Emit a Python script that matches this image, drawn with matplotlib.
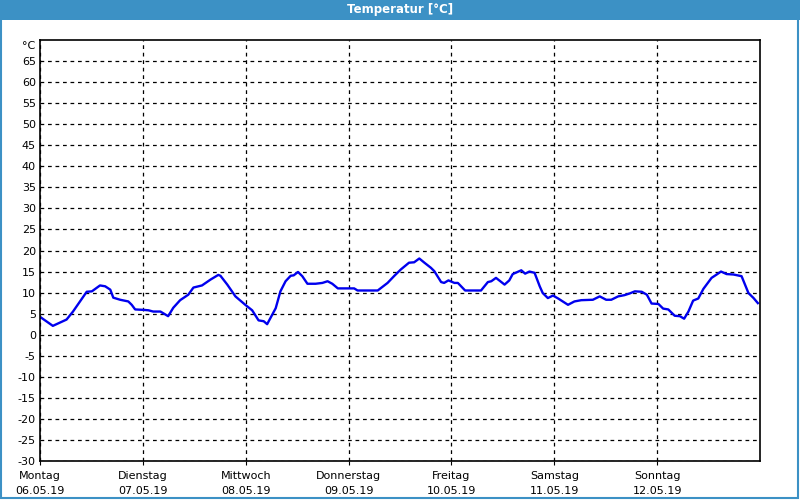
import numpy as np
import matplotlib
matplotlib.use("Agg")
import matplotlib.pyplot as plt
from matplotlib.patches import Rectangle

# hours since Monday 00:00, temperature in degC
hours = [0.2, 3.0, 6.2, 7.7, 10.9, 12.1, 14.0, 15.2, 16.4, 17.1, 18.7, 20.6, 21.4, 22.2,
         24.1, 25.3, 26.4, 28.1, 29.9, 31.1, 32.7, 34.6, 35.8, 37.8, 39.8, 41.6, 42.1,
         43.7, 45.6, 47.9, 49.5, 51.0, 52.2, 53.0, 55.0, 56.1, 57.3, 58.5, 59.2, 60.2,
         61.2, 62.4, 64.3, 65.9, 67.1, 68.2, 69.5, 73.3, 74.1, 78.8, 81.1, 82.6, 84.2,
         86.1, 87.3, 88.5, 89.7, 91.2, 92.0, 93.6, 94.3, 95.3, 96.7, 97.5, 99.2, 102.9,
         104.5, 105.3, 106.4, 108.4, 109.5, 110.3, 112.3, 113.2, 114.2, 115.4, 116.6,
         117.3, 118.5, 119.7, 120.9, 123.2, 124.7, 126.3, 129.0, 130.6, 132.1, 133.3,
         134.9, 136.4, 137.6, 138.8, 140.4, 141.6, 142.7, 144.3, 145.4, 146.6, 148.1,
         149.3, 150.3, 151.3, 152.4, 153.6, 154.8, 156.7, 157.9, 158.9, 160.2, 161.8,
         163.7, 164.5, 165.3, 166.5, 167.5]
temp = [4.1, 2.1, 3.6, 5.5, 10.2, 10.3, 11.7, 11.5, 10.7, 8.8, 8.3, 7.9, 7.1, 6.0,
        5.9, 5.8, 5.5, 5.5, 4.4, 6.4, 8.2, 9.5, 11.2, 11.7, 13.1, 14.2, 14.0,
        11.9, 9.1, 7.1, 5.8, 3.4, 3.2, 2.5, 6.3, 10.3, 12.7, 14.0, 14.1, 14.9,
        13.9, 12.1, 12.1, 12.3, 12.7, 12.1, 11.0, 11.0, 10.5, 10.5, 12.3, 13.9, 15.5,
        17.1, 17.2, 18.1, 17.1, 15.9, 15.1, 12.5, 12.3, 12.9, 12.3, 12.3, 10.5, 10.5,
        12.5, 12.7, 13.5, 11.9, 12.9, 14.4, 15.3, 14.5, 15.0, 14.7, 11.5,
        9.9, 8.7, 9.3, 8.6, 7.1, 7.9, 8.2, 8.3, 9.1, 8.3, 8.3,
        9.1, 9.4, 9.8, 10.3, 10.2, 9.5, 7.4, 7.3, 6.2, 6.0, 4.5,
        4.4, 3.8, 5.5, 8.1, 8.6, 10.9, 13.5, 14.3, 15.0, 14.4, 14.3,
        13.9, 11.9, 9.9, 8.7, 7.5]

days = ["Montag", "Dienstag", "Mittwoch", "Donnerstag", "Freitag", "Samstag", "Sonntag"]
dates = ["06.05.19", "07.05.19", "08.05.19", "09.05.19", "10.05.19", "11.05.19", "12.05.19"]
yticks = list(range(-30, 70, 5))

bar_blue = "#3c91c5"

fig = plt.figure(figsize=(8, 5), dpi=100)
fig.patch.set_facecolor("white")

# title bar and frame
fig.patches.append(Rectangle((0, 0.96), 1, 0.04, transform=fig.transFigure,
                             facecolor=bar_blue, edgecolor="none", zorder=0))
fig.patches.append(Rectangle((0.001, 0.004), 0.997, 0.996, transform=fig.transFigure,
                             facecolor="none", edgecolor=bar_blue, linewidth=1.5, zorder=0))
fig.text(0.5, 0.98, "Temperatur [°C]", color="white", ha="center", va="center",
         fontsize=8.5, fontweight="bold")

ax = fig.add_axes([0.05, 0.078, 0.90, 0.842])
ax.plot(hours, temp, color="#0000ee", linewidth=1.7)

ax.set_xlim(0, 168)
ax.set_ylim(-30, 70)
ax.set_yticks(yticks)
ax.set_yticklabels([str(v) for v in yticks], fontsize=8)
ax.set_xticks([i * 24 for i in range(7)])
ax.set_xticklabels([d + "\n" + dt for d, dt in zip(days, dates)], fontsize=8, linespacing=1.7)
ax.tick_params(axis="y", length=0, pad=3)
ax.tick_params(axis="x", length=3, pad=4)
ax.text(-0.006, 68.5, "°C", transform=ax.get_yaxis_transform(), ha="right",
        va="center", fontsize=8)

ax.grid(True, color="black", linestyle=(0, (3, 3)), linewidth=0.9)
for s in ax.spines.values():
    s.set_color("black")
    s.set_linewidth(1.2)

fig.savefig("out.png", dpi=100)
